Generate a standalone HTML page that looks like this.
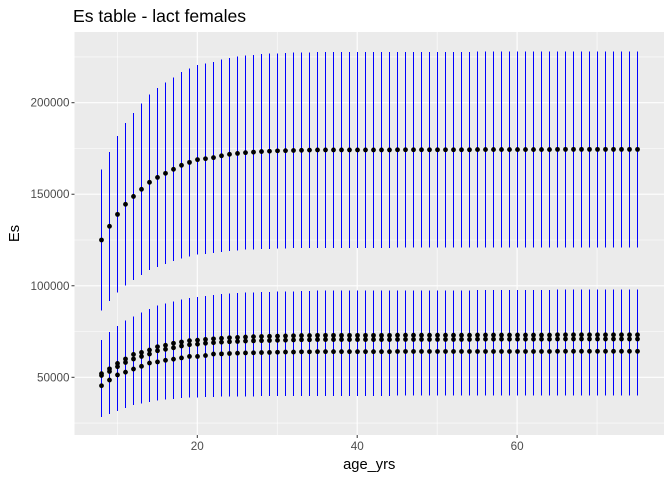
<!DOCTYPE html>
<html><head><meta charset="utf-8"><style>
body{margin:0;background:#fff;}
svg{display:block;font-family:"Liberation Sans",Arial,sans-serif;}
</style></head><body>
<svg id="c" width="672" height="480"></svg>
<script>
const ages=[];for(let a=8;a<=75;a++)ages.push(a);
const upperMean=[125000,132500,139000,144500,148800,152700,156500,159200,161400,163600,165800,167400,168900,169400,170000,171000,171800,172300,172700,173000,173300,173500,173700,173800,173900,174000,174100,
174200,174200,174200,174200,174200,174200,174200,174200,174200,174200,174300,174300,174300,174300,174300,174300,174300,174300,174300,174300,174400,174400,174400,174400,174400,174400,174400,174400,174400,174400,174500,174500,174500,174500,174500,174500,174500,174500,174500,174500,174500];
const upperHi=[163400,173200,181700,188900,194500,199600,204500,208100,211000,213800,216700,218800,220700,221400,222200,223500,224500,225200,225700,226100,226500,226800,227000,227200,227300,227400,227500,
227600,227600,227600,227600,227600,227600,227600,227600,227600,227600,227700,227700,227700,227700,227700,227700,227700,227700,227700,227700,227900,227900,227900,227900,227900,227900,227900,227900,227900,227900,228100,228100,228100,228100,228100,228100,228100,228100,228100,228100,228100];
const upperLo=[86600,91800,96300,100100,103100,105800,108500,110300,111900,113400,114900,116000,117000,117400,117800,118500,119100,119400,119700,119900,120100,120200,120400,120400,120500,120600,120700,
120700,120700,120700,120700,120700,120700,120700,120700,120700,120700,120800,120800,120800,120800,120800,120800,120800,120800,120800,120800,120900,120900,120900,120900,120900,120900,120900,120900,120900,120900,120900,120900,120900,120900,120900,120900,120900,120900,120900,120900,120900];
const lowA=[52000,54600,57600,60000,62500,63600,64900,66700,67500,68600,69300,70000,70300,70700,71000,71300,71600,71800,72000,72200,72300,72400,72500,72600,72700,72800,72800,
72900,72900,72900,72900,72900,72900,72900,72900,72900,72900,73000,73000,73000,73000,73000,73000,73000,73000,73000,73000,73100,73100,73100,73100,73100,73100,73100,73100,73100,73100,73200,73200,73200,73200,73200,73200,73200,73200,73200,73200,73200];
const lowB=[51000,53200,55800,58100,60000,61400,62700,64500,65300,66100,67100,67800,68100,68600,68900,69200,69400,69600,69800,69900,70000,70100,70200,70300,70400,70500,70500,
70600,70600,70600,70600,70600,70600,70600,70600,70600,70600,70700,70700,70700,70700,70700,70700,70700,70700,70700,70700,70800,70800,70800,70800,70800,70800,70800,70800,70800,70800,70900,70900,70900,70900,70900,70900,70900,70900,70900,70900,70900];
const lowC=[45400,48500,51300,52800,54500,56000,57800,58400,59300,59900,60600,61400,61400,61900,62700,62800,63000,63200,63300,63400,63500,63600,63700,63800,63800,63900,63900,
64000,64000,64000,64000,64000,64000,64000,64000,64000,64000,64100,64100,64100,64100,64100,64100,64100,64100,64100,64100,64100,64100,64100,64100,64100,64100,64100,64100,64100,64100,64200,64200,64200,64200,64200,64200,64200,64200,64200,64200,64200];
const lowHi=[70300,74700,78100,80900,83300,85500,87300,89200,90400,91400,92600,93400,94000,94500,95000,95400,95700,96000,96200,96400,96600,96700,96800,96900,97000,97100,97200,
97300,97300,97300,97300,97300,97300,97300,97300,97300,97300,97500,97500,97500,97500,97500,97500,97500,97500,97500,97500,97700,97700,97700,97700,97700,97700,97700,97700,97700,97700,97900,97900,97900,97900,97900,97900,97900,97900,97900,97900,97900];
const lowLo=[28400,29900,31700,33300,34800,35800,36600,37300,37800,38200,38600,38900,39000,39200,39300,39400,39500,39500,39600,39600,39700,39700,39800,39800,39800,39900,39900,
39900,39900,39900,39900,39900,39900,39900,39900,39900,39900,40000,40000,40000,40000,40000,40000,40000,40000,40000,40000,40000,40000,40000,40000,40000,40000,40000,40000,40000,40000,40000,40000,40000,40000,40000,40000,40000,40000,40000,40000,40000];
const xTicks=[20,40,60], xMinor=[10,30,50,70];
const yTicks=[50000,100000,150000,200000], yMinor=[25000,75000,125000,175000,225000];

const NS='http://www.w3.org/2000/svg', svg=document.getElementById('c');
const X=v=>197.3+(v-20)*7.995;
const Y=v=>377.3-(v-50000)*(274.6/150000);
const PX=v=>Math.floor(X(v))+0.5;
const PL=74.5,PR=664,PT=32,PB=435;
function el(t,a,p){const e=document.createElementNS(NS,t);for(const k in a)e.setAttribute(k,a[k]);(p||svg).appendChild(e);return e;}
const bg=el('rect',{x:PL,y:PT,width:PR-PL,height:PB-PT,fill:'#ebebeb'});


const g=el('g',{});


yMinor.forEach(v=>el('line',{x1:PL,x2:PR,y1:Y(v),y2:Y(v),stroke:'#fff','stroke-width':0.55},g));
xMinor.forEach(v=>el('line',{y1:PT,y2:PB,x1:X(v),x2:X(v),stroke:'#fff','stroke-width':0.55},g));
yTicks.forEach(v=>el('line',{x1:PL,x2:PR,y1:Y(v),y2:Y(v),stroke:'#fff','stroke-width':1.1},g));
xTicks.forEach(v=>el('line',{y1:PT,y2:PB,x1:X(v),x2:X(v),stroke:'#fff','stroke-width':1.1},g));
const bars=el('g',{'shape-rendering':'crispEdges'});


ages.forEach((a,i)=>{
 el('line',{x1:PX(a),x2:PX(a),y1:Y(upperLo[i]),y2:Y(upperHi[i]),stroke:'#0000ff','stroke-width':1},bars);
 el('line',{x1:PX(a),x2:PX(a),y1:Y(lowLo[i]),y2:Y(lowHi[i]),stroke:'#0000ff','stroke-width':1},bars);
});
const pts=el('g',{});


[upperMean,lowA,lowB,lowC].forEach(s=>ages.forEach((a,i)=>el('circle',{cx:PX(a),cy:Y(s[i]),r:2.4,fill:'#000'},pts)));
const ax=el('g',{});


yTicks.forEach(v=>{el('line',{x1:PL-3,x2:PL,y1:Y(v),y2:Y(v),stroke:'#333'},ax);
 const t=el('text',{x:PL-5,y:Y(v)+4,'text-anchor':'end','font-size':11.7,fill:'#4d4d4d'},ax);t.textContent=v;});
xTicks.forEach(v=>{el('line',{x1:X(v),x2:X(v),y1:PB,y2:PB+3,stroke:'#333'},ax);
 const t=el('text',{x:X(v),y:PB+15,'text-anchor':'middle','font-size':11.7,fill:'#4d4d4d'},ax);t.textContent=v;});
const xt=el('text',{x:(PL+PR)/2,y:469,'text-anchor':'middle','font-size':14.7,fill:'#000'});
xt.textContent='age_yrs';


const yt=el('text',{x:0,y:0,'text-anchor':'middle','font-size':14.7,fill:'#000',transform:`translate(19,${(PT+PB)/2}) rotate(-90)`});
yt.textContent='Es';


const ti=el('text',{x:73,y:22,'font-size':17.6,fill:'#000'});
ti.textContent='Es table - lact females';


</script>
</body></html>
